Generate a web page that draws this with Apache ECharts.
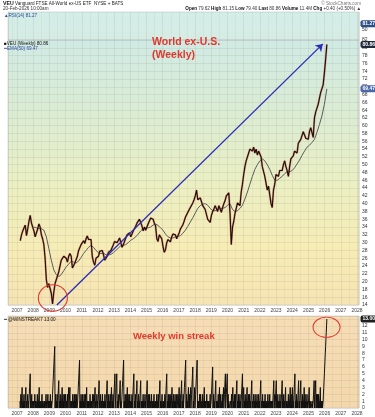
<!DOCTYPE html>
<html>
<head>
<meta charset="utf-8">
<script src="https://cdn.jsdelivr.net/npm/echarts@6.0.0/dist/echarts.min.js"></script>
<style>
html,body{margin:0;padding:0;background:#ffffff;}
#chart{width:375px;height:417px;}
</style>
</head>
<body>
<div id="chart"></div>
<script>
// ================= DATA =================
// Weekly price (VEU, adjusted), sampled every 4 weeks from 2007-03-16
const priceStart = '2007-03-16';
const priceStepDays = 28;
const price2007to2010 = [
  30.5, 32.0, 33.0, 33.8, 34.5, 31.8, 33.5, 35.5, 37.0, 35.0, 35.3,
  33.0, 31.5, 32.5, 33.5, 34.8, 34.0, 32.0, 31.0, 29.5, 26.0, 20.5, 18.5, 19.5,
  19.0, 17.0, 14.3, 17.2, 19.5, 20.5, 21.0, 22.5, 24.0, 25.5, 26.0, 26.5, 27.0,
  26.0, 25.0, 26.5, 27.2, 26.5, 23.5, 23.2, 24.8, 24.5, 26.5, 28.0, 28.0, 29.5
];
const price2011to2014 = [
  30.0, 30.5, 29.8, 31.0, 31.7, 30.8, 30.3, 30.8, 26.5, 25.0, 24.2, 26.0, 25.5,
  26.5, 27.8, 28.3, 28.0, 27.0, 25.5, 25.8, 26.5, 27.5, 28.0, 28.0, 28.5, 29.5,
  30.3, 30.5, 30.0, 30.5, 31.2, 30.8, 28.8, 29.5, 30.0, 31.2, 32.0, 32.3, 32.5,
  31.5, 32.2, 33.0, 33.5, 34.2, 35.0, 35.5, 36.0, 35.5, 34.3, 33.0, 34.0, 33.2
];
const price2015to2018 = [
  33.5, 34.8, 35.0, 36.3, 36.8, 36.0, 35.0, 34.3, 31.0, 30.3, 32.0, 31.5, 31.0,
  29.0, 27.5, 28.2, 30.0, 30.8, 30.5, 30.2, 31.5, 32.2, 32.5, 32.0, 31.0, 31.8,
  32.5, 33.5, 34.0, 34.6, 35.5, 36.5, 37.0, 37.8, 38.2, 39.0, 39.5, 40.2, 41.0,
  42.0, 43.5, 41.0, 41.2, 41.5, 40.5, 39.5, 39.5, 38.5, 38.8, 36.0, 36.3, 35.2
];
const price2019to2022 = [
  37.0, 38.0, 38.6, 39.5, 40.0, 38.0, 39.5, 39.8, 37.8, 39.0, 40.0, 40.8, 42.0,
  42.5, 42.8, 37.5, 29.5, 34.0, 35.5, 37.5, 38.8, 40.2, 39.8, 39.5, 43.0, 45.0,
  47.5, 49.5, 51.0, 51.5, 53.0, 54.0, 53.5, 53.5, 54.5, 53.0, 54.0, 52.5, 53.5,
  53.5, 52.0, 49.5, 50.0, 47.0, 47.0, 43.5, 44.5, 44.5, 40.0, 39.0, 43.5, 45.0
];
const price2023to2026 = [
  47.5, 48.0, 47.0, 48.5, 49.0, 48.5, 50.0, 51.0, 49.5, 48.5, 47.0, 49.5, 51.5,
  51.5, 52.3, 53.5, 54.0, 53.0, 55.5, 55.8, 56.5, 56.0, 58.5, 58.0, 56.8, 57.0,
  56.5, 58.5, 59.5, 60.0, 57.0, 62.0, 63.5, 64.5, 65.5, 67.0, 68.5, 68.8, 70.5,
  73.5, 77.0, 80.86
];

// EMA(50), every 8 weeks from 2008-01-18
const emaStart = '2008-01-18';
const emaStepDays = 56;
const ema2008to2013 = [
  34.0, 33.8, 33.6, 33.6, 33.2, 31.5, 28.5, 25.5, 23.0, 21.8, 21.3, 21.8, 22.8,
  23.8, 24.5, 25.2, 25.0, 24.8, 25.3, 26.2, 27.2, 28.0, 28.8, 29.3, 28.8, 28.0,
  27.4, 27.2, 27.3, 26.9, 26.8, 27.0, 27.4, 28.0, 28.6, 29.2, 29.3, 29.5, 30.0
];
const ema2014to2019 = [
  30.6, 31.0, 31.5, 32.2, 33.0, 33.6, 33.8, 33.8, 34.0, 34.5, 34.8, 34.4, 33.8,
  33.2, 32.2, 31.5, 31.2, 31.2, 31.5, 31.6, 31.8, 32.4, 33.2, 34.2, 35.3, 36.4,
  37.6, 38.8, 39.5, 39.9, 40.0, 39.6, 38.8, 38.2, 38.2, 38.5, 38.8, 38.8, 39.0, 39.6
];
const ema2020to2026 = [
  40.0, 38.5, 38.0, 38.2, 38.8, 39.6, 41.2, 43.0, 45.0, 47.0, 48.8, 50.0, 51.0,
  51.5, 51.0, 50.0, 48.8, 47.3, 46.0, 46.0, 46.5, 47.0, 47.7, 48.2, 48.2, 48.5,
  49.2, 50.2, 51.2, 52.4, 53.5, 54.5, 55.0, 55.7, 56.5, 58.3, 60.3, 62.5, 65.5, 69.47
];

// Weekly win streak, one value per week from 2007-03-09
const streakStart = '2007-03-09';
const streakStepDays = 7;
const streak2007to2010 = [
  1,0,1,2,0,1,2,3,0,0,1,0,1,2,0,1,0,1,2,3,0,1,0,0,1,2,0,1,0,1,2,3,4,5,0,1,0,1,2,0,0,1,0,
  0,1,0,0,1,2,0,1,0,1,0,0,1,2,0,1,0,1,2,3,0,0,1,0,0,1,0,1,2,0,0,1,0,0,0,1,0,1,0,0,1,2,0,1,0,0,1,2,0,1,0,0,
  1,0,1,2,0,0,1,0,0,1,2,3,4,5,6,7,8,9,0,1,2,0,1,0,1,2,0,1,2,3,4,0,1,0,1,2,0,1,0,1,2,3,0,1,2,0,1,0,1,2,0,1,
  2,0,0,1,0,1,2,0,1,2,3,0,1,2,3,0,0,1,0,0,1,0,1,2,0,1,0,1,2,0,1,2,0,1,0,1,2,0,0,1,2,3,4,5,6,7,0,1,0,1,2,0,1
];
const streak2011to2014 = [
  0,1,2,0,1,0,1,2,0,0,1,2,0,1,2,3,0,1,0,0,1,0,1,0,0,1,2,0,1,0,0,1,0,1,2,0,0,1,2,0,1,2,3,0,1,0,0,1,2,0,1,0,
  1,2,3,4,0,1,0,1,2,0,0,1,0,1,2,0,1,0,0,1,0,1,2,0,1,0,1,2,3,4,0,1,0,1,2,0,1,0,1,2,0,1,2,3,0,1,0,1,2,0,1,2,
  3,4,5,0,1,2,3,4,5,0,1,0,1,2,0,0,1,2,3,4,0,1,0,0,1,2,3,4,5,6,7,0,1,0,1,2,0,1,2,0,1,2,3,0,1,0,1,2,0,1,2,0,
  1,0,1,0,1,2,0,1,2,3,4,5,0,1,0,1,2,0,1,2,3,4,0,1,0,1,2,0,1,0,1,2,3,4,0,1,0,0,1,0,1,2,0,1,0,0,1,2,0,1,0,1
];
const streak2015to2018 = [
  2,3,4,0,1,0,1,2,0,1,2,0,1,0,0,1,2,0,1,0,0,1,0,1,2,0,0,1,0,0,1,0,1,2,0,1,0,1,2,0,1,2,3,4,0,1,0,1,0,1,2,0,
  0,0,1,0,1,0,1,2,0,1,2,3,4,5,0,1,0,1,2,0,1,2,0,1,0,1,2,0,1,2,3,0,1,0,1,2,0,1,0,1,2,0,1,0,1,2,0,0,1,2,0,1,2,
  3,0,1,2,0,1,2,3,4,0,1,0,1,2,0,1,2,3,4,5,6,7,0,1,2,0,1,0,1,2,3,0,1,2,0,1,2,3,0,1,2,3,4,5,6,0,1,0,1,2,3,0,
  1,2,3,4,5,6,7,0,0,1,0,1,0,1,2,0,1,2,0,1,0,0,1,2,0,1,0,1,2,3,0,1,0,1,0,0,1,2,0,1,0,0,1,0,1,0,0,1,2,0,0,1
];
const streak2019to2022 = [
  2,3,4,5,6,0,1,2,0,1,0,1,2,3,4,0,1,0,0,1,0,1,2,0,1,2,3,0,1,2,0,1,0,0,1,2,0,1,2,3,0,1,2,3,4,5,0,1,2,3,4,5,
  0,1,2,0,1,0,0,0,0,0,1,0,1,2,0,1,2,3,0,1,0,1,2,0,1,2,0,1,2,3,4,0,1,0,1,2,0,1,0,1,2,0,1,0,1,2,3,4,5,0,1,2,
  3,0,1,0,1,2,0,1,0,1,2,3,0,1,0,1,2,0,1,2,0,1,0,1,2,3,4,0,1,0,0,1,2,0,1,0,1,2,0,1,0,0,1,2,0,1,0,1,2,0,1,0,1,
  2,3,4,0,0,1,0,1,2,0,1,0,0,1,0,1,2,0,0,1,0,0,1,0,1,2,0,0,1,0,1,2,0,0,1,0,0,1,0,1,0,1,2,3,4,0,1,2,0,1,2,3
];
const streak2023to2026 = [
  4,0,1,0,1,2,0,1,0,1,0,1,2,0,1,0,1,2,3,4,0,1,0,1,2,0,1,0,1,2,3,0,1,0,0,1,0,0,1,2,0,1,0,1,2,3,0,1,2,0,1,2,
  3,0,1,0,1,2,3,4,5,0,1,0,1,2,0,1,0,1,2,3,4,0,1,0,1,2,3,4,0,1,0,1,2,0,1,0,1,2,3,0,1,2,0,1,0,0,1,2,0,1,0,0,
  1,2,3,0,1,0,0,1,0,0,0,0,1,0,0,1,2,3,4,0,1,2,3,4,0,1,2,0,1,2,0,1,2,0,1,0,1,2,3,0,1,0,1,0,1,0,0,1,2,3,4,5,
  6,7,8,9,10,11,12,13
];

// Latest readings shown in the value boxes
const rsiLast = 81.27;
const priceLast = 80.86;
const emaLast = 69.47;
const streakLast = 13;
const rsiTickLabels = [30, 50, 70];

// Annotations (data coordinates)
const trendStart = ['2009-06-19', 14.0];
const trendEnd = ['2025-11-21', 81.0];
const circleLow = ['2009-03-20', 15.8];
const circleStreak = ['2026-02-13', 11.8];

// ================= BUILD =================
function ts(s) { const [y, m, d] = s.split('-').map(Number); return new Date(y, m - 1, d).getTime(); }
function buildSeries(startStr, stepDays, values) {
  const [y, m, d] = startStr.split('-').map(Number);
  return values.map((v, i) => [new Date(y, m - 1, d + i * stepDays).getTime(), v]);
}
const priceData = buildSeries(priceStart, priceStepDays,
  [].concat(price2007to2010, price2011to2014, price2015to2018, price2019to2022, price2023to2026));
const emaData = buildSeries(emaStart, emaStepDays, [].concat(ema2008to2013, ema2014to2019, ema2020to2026));
const streakData = buildSeries(streakStart, streakStepDays,
  [].concat(streak2007to2010, streak2011to2014, streak2015to2018, streak2019to2022, streak2023to2026));

const FONT = '"Liberation Sans", Arial, sans-serif';
const xMin = new Date(2006, 5, 12).getTime();
const xMax = new Date(2028, 1, 15).getTime();
const gridLine = { color: 'rgba(105,110,90,0.22)', width: 0.5 };
const minorLine = { color: 'rgba(105,110,90,0.13)', width: 0.5 };
const yearFmt = function (v) {
  const d = new Date(v);
  return (d.getMonth() === 0 && d.getDate() === 1) ? String(d.getFullYear()) : '';
};
function mkX(gi, show) {
  return {
    type: 'time', gridIndex: gi, min: xMin, max: xMax,
    minInterval: 365 * 864e5, maxInterval: 366 * 864e5,
    axisLine: { show: false }, axisTick: { show: false },
    axisLabel: { show: show, formatter: yearFmt, fontSize: 5, color: '#444', margin: 3, fontFamily: FONT, hideOverlap: false },
    splitLine: { show: true, lineStyle: gridLine },
    minorTick: { show: false, splitNumber: 2 },
    minorSplitLine: { show: true, lineStyle: minorLine }
  };
}
function grad(stops) {
  return new echarts.graphic.LinearGradient(0, 0, 0, 1, stops.map(s => ({ offset: s[0], color: s[1] })));
}
const yLabel = { fontSize: 5, color: '#333', margin: 3, fontFamily: FONT };

const chart = echarts.init(document.getElementById('chart'), null, { renderer: 'canvas' });
const option = {
  animation: false,
  textStyle: { fontFamily: FONT },
  grid: [
    { left: 8, right: 16, top: 12, height: 28, show: true,
      backgroundColor: grad([[0, '#d3ede8'], [1, '#d5ece3']]), borderColor: '#b8b8b8', borderWidth: 0.5 },
    { left: 8, right: 16, top: 40, height: 265, show: true,
      backgroundColor: grad([[0, '#d0eae4'], [0.3, '#dcecd2'], [0.55, '#ebefc2'], [0.78, '#f6ecb6'], [1, '#f6e4b4']]),
      borderColor: '#b8b8b8', borderWidth: 0.5 },
    { left: 8, right: 16, top: 316, height: 92, show: true,
      backgroundColor: grad([[0, '#f6ddb6'], [1, '#f4d8ac']]), borderColor: '#b8b8b8', borderWidth: 0.5 }
  ],
  xAxis: [mkX(0, false), mkX(1, true), mkX(2, true)],
  yAxis: [
    { type: 'value', gridIndex: 0, position: 'right', min: 0, max: 140,
      axisLine: { show: false }, axisTick: { show: false }, splitLine: { show: false },
      axisLabel: Object.assign({ customValues: rsiTickLabels }, yLabel) },
    { type: 'value', gridIndex: 1, position: 'right', min: 14, max: 82, interval: 2,
      axisLine: { show: false }, axisTick: { show: false }, splitLine: { show: true, lineStyle: gridLine },
      axisLabel: yLabel },
    { type: 'value', gridIndex: 2, position: 'right', min: 0, max: 13.45, interval: 1,
      axisLine: { show: false }, axisTick: { show: false }, splitLine: { show: true, lineStyle: gridLine },
      axisLabel: Object.assign({ showMaxLabel: false }, yLabel) }
  ],
  series: [
    { name: 'RSI', type: 'line', xAxisIndex: 0, yAxisIndex: 0, data: [], symbol: 'none' },
    { name: 'EMA(50)', type: 'line', xAxisIndex: 1, yAxisIndex: 1, data: emaData, symbol: 'none',
      lineStyle: { color: '#5c5c5c', width: 1 }, z: 2 },
    { name: 'VEU down bars', type: 'line', xAxisIndex: 1, yAxisIndex: 1, data: priceData, symbol: 'none',
      lineStyle: { color: '#c0392b', width: 2.0, opacity: 0.5 }, z: 3 },
    { name: 'VEU', type: 'line', xAxisIndex: 1, yAxisIndex: 1, data: priceData, symbol: 'none',
      lineStyle: { color: '#1c0d08', width: 1.1 }, z: 4 },
    { name: 'trend', type: 'line', xAxisIndex: 1, yAxisIndex: 1, symbol: 'none',
      data: [[ts(trendStart[0]), trendStart[1]], [ts(trendEnd[0]), trendEnd[1]]],
      lineStyle: { opacity: 0 }, z: 5,
      markLine: {
        silent: true, symbol: ['none', 'arrow'], symbolSize: 7, animation: false,
        lineStyle: { color: '#2a2ab8', width: 1.3, type: 'solid' },
        label: { show: false },
        data: [[{ coord: [ts(trendStart[0]), trendStart[1]] }, { coord: [ts(trendEnd[0]), trendEnd[1]] }]]
      } },
    { name: 'streak', type: 'line', xAxisIndex: 2, yAxisIndex: 2, data: streakData, symbol: 'none',
      lineStyle: { color: '#111', width: 1.0 } }
  ]
};
chart.setOption(option);

const c1 = chart.convertToPixel({ gridIndex: 1 }, [ts(circleLow[0]), circleLow[1]]);
const c2 = chart.convertToPixel({ gridIndex: 2 }, [ts(circleStreak[0]), circleStreak[1]]);
const bRsi = chart.convertToPixel({ gridIndex: 0 }, [xMax, rsiLast]);
const bPrice = chart.convertToPixel({ gridIndex: 1 }, [xMax, priceLast]);
const bEma = chart.convertToPixel({ gridIndex: 1 }, [xMax, emaLast]);
const bStreak = chart.convertToPixel({ gridIndex: 2 }, [xMax, streakLast]);
function box(p, text, bg) {
  return { type: 'text', x: p[0] + 1.5, y: p[1], silent: true, z: 120,
    style: { text: text, font: 'bold 5px ' + FONT, fill: '#fff', backgroundColor: bg,
      padding: [1, 2, 1, 2], borderRadius: 2, align: 'left', verticalAlign: 'middle' } };
}
const small = '4.6px ' + FONT;
const red = '#e2372b';
chart.setOption({
  graphic: [
    { type: 'text', left: 3, top: 1, silent: true, style: {
      text: '{b|VEU} Vanguard FTSE All-World ex-US ETF  NYSE + BATS', font: small, fill: '#222',
      rich: { b: { font: 'bold 5.2px ' + FONT, fill: '#111' } } } },
    { type: 'text', left: 3, top: 6.5, silent: true, style: { text: '20-Feb-2026 10:00am', font: small, fill: '#333' } },
    { type: 'text', right: 14, top: 1, silent: true, style: { text: '© StockCharts.com', font: small, fill: '#777' } },
    { type: 'text', right: 14, top: 6.5, silent: true, style: {
      text: '{b|Open} 79.62 {b|High} 81.15 {b|Low} 79.40 {b|Last} 80.86 {b|Volume} 11.4M {b|Chg} +0.40 (+0.50%) ▲',
      font: small, fill: '#333', rich: { b: { font: 'bold 4.6px ' + FONT, fill: '#111' } } } },
    { type: 'text', left: 4, top: 13.5, silent: true, style: { text: '▲RSI(14) 81.27', font: small, fill: '#2b4a9a' } },
    { type: 'text', left: 4, top: 41, silent: true, style: { text: '■VEU (Weekly) 80.86', font: small, fill: '#111' } },
    { type: 'text', left: 4, top: 46, silent: true, style: { text: '━EMA(50) 69.47', font: small, fill: '#2b4a9a' } },
    { type: 'text', left: 4, top: 317, silent: true, style: { text: '━ @WINSTREAK7 13.00', font: small, fill: '#111' } },
    { type: 'text', left: 152, top: 37, silent: true, style: { text: 'World ex-U.S.', font: 'bold 10.5px ' + FONT, fill: red } },
    { type: 'text', left: 152, top: 50, silent: true, style: { text: '(Weekly)', font: 'bold 10.5px ' + FONT, fill: red } },
    { type: 'text', left: 133, top: 331, silent: true, style: { text: 'Weekly win streak', font: 'bold 9.5px ' + FONT, fill: red } },
    { type: 'circle', x: c1[0], y: c1[1], scaleY: 0.92, silent: true, z: 100,
      shape: { cx: 0, cy: 0, r: 14.5 }, style: { fill: 'none', stroke: red, lineWidth: 1.1 } },
    { type: 'circle', x: c2[0], y: c2[1], scaleY: 0.75, silent: true, z: 100,
      shape: { cx: 0, cy: 0, r: 13.5 }, style: { fill: 'none', stroke: red, lineWidth: 1.1 } },
    box(bRsi, rsiLast.toFixed(2), '#2d4f86'),
    box(bPrice, priceLast.toFixed(2), '#1f2b3d'),
    box(bEma, emaLast.toFixed(2), '#4a68a8'),
    box(bStreak, streakLast.toFixed(2), '#1f1f1f')
  ]
});
</script>
</body>
</html>
